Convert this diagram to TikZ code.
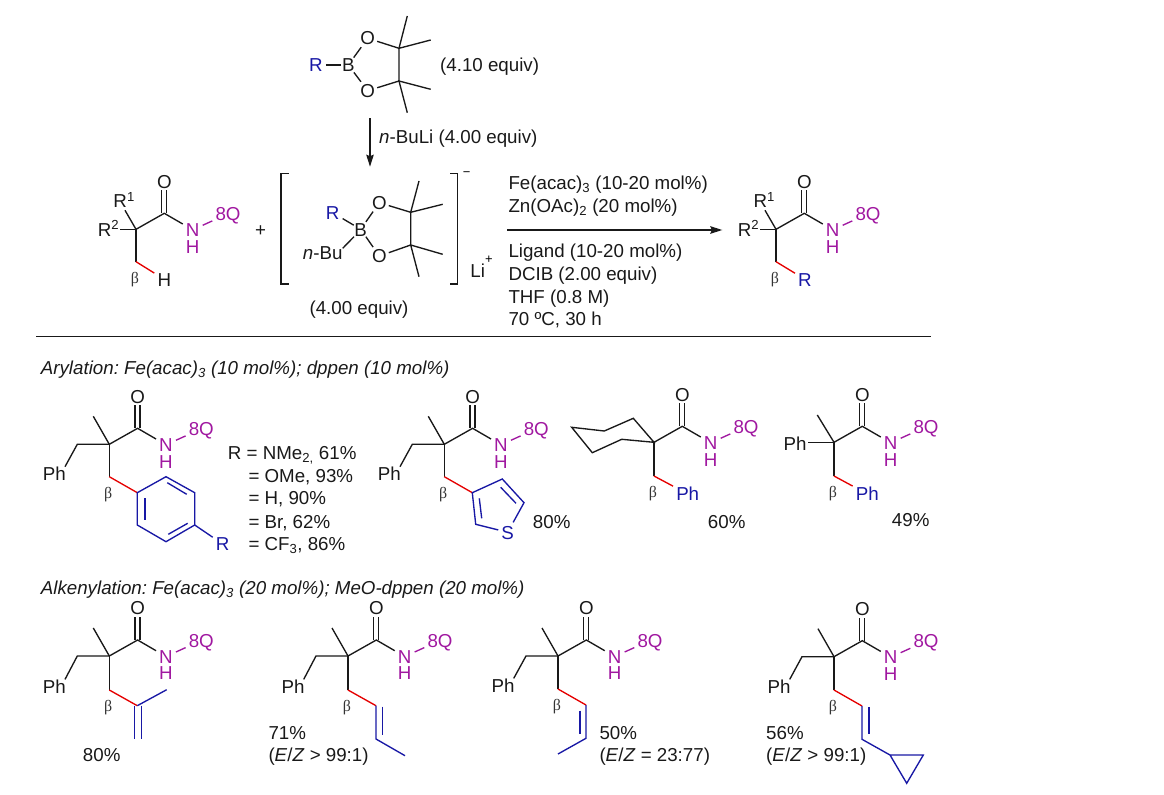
\documentclass[tikz,border=0pt]{standalone}
\usepackage{fontspec}
\setmainfont{Liberation Sans}
\newfontfamily\betafont{Liberation Serif}
\usetikzlibrary{arrows.meta}
\definecolor{rblue}{RGB}{24,24,165}
\definecolor{hetero}{RGB}{160,24,160}
\frenchspacing
\tikzset{
	bond/.style={line width=1.35bp, color=black!90},
	redbond/.style={line width=1.35bp, color=red!90!black},
	bluebond/.style={line width=1.35bp, color=rblue},
	purplebond/.style={line width=1.35bp, color=hetero},
	rxnarrow/.style={bond, -{Stealth[length=12bp, width=7.5bp, inset=1.5bp]}},
	chem/.style={text height=13.4bp, text depth=0bp, inner sep=3bp, text=black!90},
	oxygen/.style={chem, inner sep=2bp},
	boron/.style={chem, inner sep=0.5bp},
	tag/.style={chem, anchor=west, inner sep=0pt},
	rtext/.style={chem, text=rblue},
	qtext/.style={chem, text=hetero},
	betatext/.style={font=\fontsize{16}{16}\selectfont\betafont, inner sep=0pt, text=black!80},
	smallsign/.style={font=\fontsize{13}{13}\selectfont, inner sep=0pt},
}
% amide end of every structure, quaternary carbon at the scope origin
\def\amidecore#1{
	\coordinate (#1q) at (0, 0);
	\coordinate (#1c) at (28.3, -16);
	\node[chem] (#1o) at (28.3, -48) {O};
	\node[qtext] (#1n) at (56.7, 0.5) {N};
	\node[qtext] (#1h) at (56.7, 17) {H};
	\node[qtext] (#1x) at (92, -15.5) {8Q};
	\draw[bond] (#1q) -- (#1c) -- (#1n);
	\draw[purplebond] (#1n) -- (#1x);
	\draw[bond] (25.8, -16) -- (25.8, -39);
	\draw[bond] (30.8, -16) -- (30.8, -39);
}
\def\rgroups#1{
	\node[tag] (#1ra) at (-22.7, -28.3) {R\textsuperscript{1}};
	\node[tag] (#1rb) at (-38.3, 0) {R\textsuperscript{2}};
	\draw[bond] (#1q) -- (-11, -19);
	\draw[bond] (#1q) -- (-16, 0);
}
\def\benzylarm#1#2{
	\coordinate (#1me) at (-16, -28);
	\coordinate (#1bn) at (-32, 0);
	\coordinate (#1pe) at (-44.3, #2-7.3);
	\node[chem] (#1ph) at (-55, #2) {Ph};
	\draw[bond] (#1q) -- (#1me);
	\draw[bond] (#1q) -- (#1bn) -- (#1pe);
}
\def\betaarm#1#2{
	\coordinate (#1b) at (0, #2);
	\node[betatext] (#1beta) at (-1, #2+18) {β};
	\draw[bond] (#1q) -- (#1b);
}

\begin{document}
\begin{tikzpicture}[x=1bp, y=-1bp, font=\fontsize{18.8}{21}\selectfont]
	\useasboundingbox (0, 0) rectangle (1164, 795);

	%%%%% top boronate %%%%%
	\node[rtext] (topr) at (316, 65) {R};
	\node[boron] (topb) at (348.3, 65) {B};
	\node[oxygen] (topo) at (367.7, 38.3) {O};
	\node[oxygen] (topp) at (367.7, 90.7) {O};
	\coordinate (topc) at (399, 48.3);
	\coordinate (topd) at (399, 81);
	\draw[bond] (topr) -- (topb);
	\draw[bond] (topb) -- (topo) -- (topc) -- (topd) -- (topp) -- (topb);
	\draw[bond] (407.3, 16) -- (topc) -- (430.7, 40);
	\draw[bond] (430.7, 89.3) -- (topd) -- (407.3, 112.7);
	\node[tag] (topeq) at (440, 65) {(4.10 equiv)};

	\coordinate (arra) at (370, 118.3);
	\coordinate (arrb) at (370, 166.7);
	\draw[rxnarrow] (arra) -- (arrb);
	\node[tag] (buli) at (379, 136.7) {\textit{n}-BuLi (4.00 equiv)};

	%%%%% substrate %%%%%
	\begin{scope}[shift={(136, 229.3)}]
		\amidecore{sm}
		\rgroups{sm}
		\betaarm{sm}{32.4}
		\node[chem] (smh) at (28.3, 50) {H};
		\draw[redbond] (smb) -- (smh);
	\end{scope}
	\node[chem] (plus) at (260.7, 229.3) {+};

	%%%%% ate complex %%%%%
	\draw[bond] (288.7, 173.3) -- (281, 173.3) -- (281, 284) -- (288.7, 284);
	\draw[bond] (450, 173.3) -- (457.3, 173.3) -- (457.3, 284) -- (450, 284);
	\node[rtext] (ater) at (332.7, 212.7) {R};
	\node[boron] (ateb) at (360.7, 229.3) {B};
	\node[chem] (atebu) at (322.7, 253) {\textit{n}-Bu};
	\node[oxygen] (ateo) at (379.3, 202.7) {O};
	\node[oxygen] (atep) at (379.3, 256) {O};
	\coordinate (atec) at (410.7, 212.3);
	\coordinate (ated) at (410.7, 245);
	\coordinate (atebe) at (342.7, 248.3);
	\coordinate (atebf) at (354, 236.7);
	\draw[bond] (ater) -- (ateb);
	\draw[bond] (atebe) -- (atebf);
	\draw[bond] (ateb) -- (ateo) -- (atec) -- (ated) -- (atep) -- (ateb);
	\draw[bond] (419, 181) -- (atec) -- (442.7, 204.3);
	\draw[bond] (442.7, 254.3) -- (ated) -- (419, 276.7);
	\node[smallsign] (minus) at (466.7, 174) {−};
	\node[chem] (li) at (477.7, 270.7) {Li};
	\node[smallsign] (liplus) at (489, 259.3) {+};
	\node[chem] (ateeq) at (359, 308) {(4.00 equiv)};

	%%%%% conditions %%%%%
	\coordinate (rxna) at (507.3, 230);
	\coordinate (rxnb) at (722.3, 230);
	\draw[rxnarrow] (rxna) -- (rxnb);
	\node[tag] (cond1) at (508.3, 182.7) {Fe(acac)\textsubscript{3} (10-20 mol\%)};
	\node[tag] (cond2) at (508.3, 206) {Zn(OAc)\textsubscript{2} (20 mol\%)};
	\node[tag] (cond3) at (508.3, 250.7) {Ligand (10-20 mol\%)};
	\node[tag] (cond4) at (508.3, 274) {DCIB (2.00 equiv)};
	\node[tag] (cond5) at (508.3, 296.7) {THF (0.8 M)};
	\node[tag] (cond6) at (508.3, 319) {70 ºC, 30 h};

	%%%%% product %%%%%
	\begin{scope}[shift={(776, 229.3)}]
		\amidecore{pr}
		\rgroups{pr}
		\betaarm{pr}{32.4}
		\node[rtext] (prr) at (29, 50) {R};
		\draw[redbond] (prb) -- (prr);
	\end{scope}

	\coordinate (rulea) at (36, 336.7);
	\coordinate (ruleb) at (931, 336.7);
	\draw[bond] (rulea) -- (ruleb);

	%%%%% arylation %%%%%
	\node[tag] (aryl) at (40.7, 368) {\textit{Arylation: Fe(acac)\textsubscript{3} (10 mol\%); dppen (10 mol\%)}};

	\begin{scope}[shift={(109.3, 444.3)}]
		\amidecore{aa}
		\benzylarm{aa}{29.7}
		\betaarm{aa}{32.4}
		\coordinate (aar1) at (28, 48.4);
		\draw[redbond] (aab) -- (aar1);
		\draw[bluebond] (aar1) -- (56.7, 32.4) -- (85.4, 48.4) -- (85.4, 80.7) -- (56.7, 97.4) -- (28, 80.7) -- cycle;
		\draw[bluebond] (35.7, 54) -- (35.7, 75.7);
		\draw[bluebond] (58, 38.4) -- (77.4, 50);
		\draw[bluebond] (59, 90) -- (78.4, 79);
		\node[rtext] (aar) at (113.4, 99.7) {R};
		\draw[bluebond] (85.4, 80.7) -- (aar);
	\end{scope}
	\node[tag] (ya1) at (227.7, 453) {R = NMe\textsubscript{2,} 61\%};
	\node[tag] (ya2) at (248.3, 476) {= OMe, 93\%};
	\node[tag] (ya3) at (248.3, 498) {= H, 90\%};
	\node[tag] (ya4) at (248.3, 522) {= Br, 62\%};
	\node[tag] (ya5) at (248.3, 544) {= CF\textsubscript{3}, 86\%};

	\begin{scope}[shift={(444.3, 444.3)}]
		\amidecore{ab}
		\benzylarm{ab}{29.7}
		\betaarm{ab}{32.4}
		\coordinate (abr1) at (28, 48.4);
		\draw[redbond] (abb) -- (abr1);
		\node[rtext] (abs) at (63.4, 88) {S};
		\draw[bluebond] (abs) -- (31.4, 80) -- (abr1) -- (58, 34.7) -- (79.7, 58.4) -- (abs);
		\draw[bluebond] (35, 54) -- (37.4, 74);
		\draw[bluebond] (56.4, 43) -- (71.7, 59);
	\end{scope}
	\node[chem] (yb) at (551.7, 522) {80\%};

	\begin{scope}[shift={(654, 442.3)}]
		\amidecore{ac}
		\betaarm{ac}{33.7}
		\node[rtext] (acph) at (33.7, 51.7) {Ph};
		\draw[redbond] (acb) -- (acph);
		\draw[bond] (acq) -- (-20.7, -24) -- (-49.7, -11.3) -- (-82.3, -15) -- (-61.7, 10.4) -- (-32.3, -3) -- cycle;
	\end{scope}
	\node[chem] (yc) at (726.7, 521.7) {60\%};

	\begin{scope}[shift={(834, 442.3)}]
		\amidecore{ad}
		\betaarm{ad}{33.7}
		\coordinate (adme) at (-16.7, -27.3);
		\coordinate (adpe) at (-25.7, 0);
		\node[chem] (adpa) at (-39, 1.7) {Ph};
		\node[rtext] (adph) at (33.3, 51.7) {Ph};
		\draw[bond] (adq) -- (adme);
		\draw[bond] (adq) -- (adpe);
		\draw[redbond] (adb) -- (adph);
	\end{scope}
	\node[chem] (yd) at (910.7, 520) {49\%};

	%%%%% alkenylation %%%%%
	\node[tag] (alke) at (40.7, 587.7) {\textit{Alkenylation: Fe(acac)\textsubscript{3} (20 mol\%); MeO-dppen (20 mol\%)}};

	\begin{scope}[shift={(109.3, 656)}]
		\amidecore{ba}
		\benzylarm{ba}{30.7}
		\betaarm{ba}{34}
		\coordinate (bar1) at (28, 49.7);
		\draw[redbond] (bab) -- (bar1);
		\draw[bluebond] (bar1) -- (57.4, 33.7);
		\draw[bluebond] (25, 49.7) -- (25, 83.3);
		\draw[bluebond] (32.4, 49.7) -- (32.4, 83.3);
	\end{scope}
	\node[chem] (ye) at (101.7, 755) {80\%};

	\begin{scope}[shift={(348, 656)}]
		\amidecore{bb}
		\benzylarm{bb}{30.7}
		\betaarm{bb}{34}
		\coordinate (bbr1) at (28, 49.7);
		\draw[redbond] (bbb) -- (bbr1);
		\draw[bluebond] (bbr1) -- (28, 83) -- (57, 99.7);
		\draw[bluebond] (34.7, 50.7) -- (34.7, 79);
	\end{scope}
	\node[tag] (yf1) at (268.3, 732.3) {71\%};
	\node[tag] (yf2) at (268.3, 755) {(\textit{E}/\textit{Z} > 99:1)};

	\begin{scope}[shift={(558, 656)}]
		\amidecore{bc}
		\benzylarm{bc}{29.7}
		\betaarm{bc}{33}
		\coordinate (bcr1) at (28, 49);
		\draw[redbond] (bcb) -- (bcr1);
		\draw[bluebond] (bcr1) -- (28, 82.3) -- (0, 98);
		\draw[bluebond] (22, 54.7) -- (22, 78);
	\end{scope}
	\node[tag] (yg1) at (599.3, 732.3) {50\%};
	\node[tag] (yg2) at (599.3, 755) {(\textit{E}/\textit{Z} = 23:77)};

	\begin{scope}[shift={(834, 656.7)}]
		\amidecore{bd}
		\benzylarm{bd}{30}
		\betaarm{bd}{33.3}
		\coordinate (bdr1) at (28, 49.3);
		\draw[redbond] (bdb) -- (bdr1);
		\draw[bluebond] (bdr1) -- (28, 82.6) -- (56, 98.3) -- (89.3, 98.3) -- (72.7, 126.6) -- (56, 98.3);
		\draw[bluebond] (35, 50.6) -- (35, 77.3);
	\end{scope}
	\node[tag] (yh1) at (766, 732.3) {56\%};
	\node[tag] (yh2) at (766, 755) {(\textit{E}/\textit{Z} > 99:1)};
\end{tikzpicture}
\end{document}
